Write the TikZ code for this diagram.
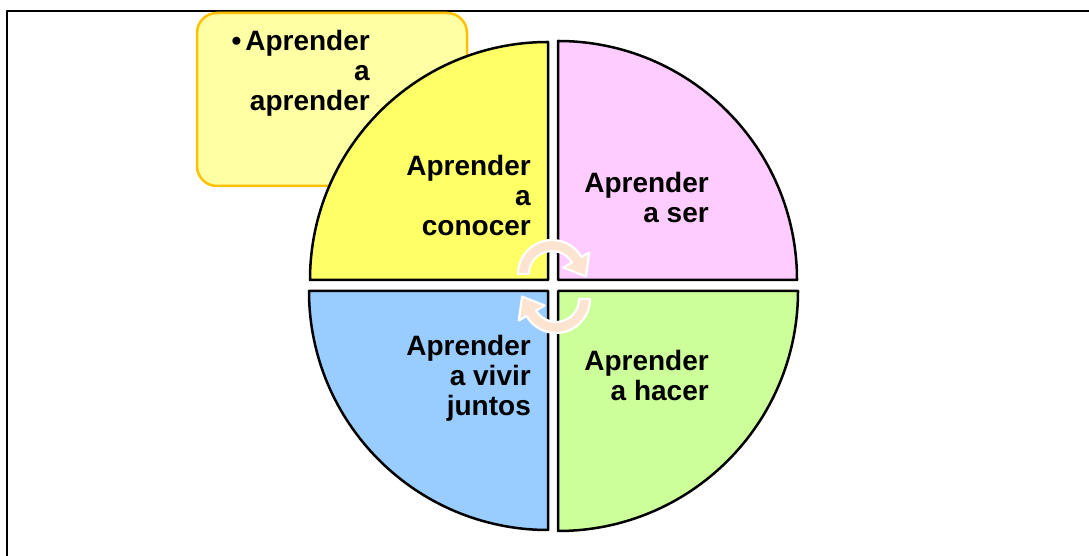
\documentclass[tikz,border=0pt]{standalone}
\usepackage{fontspec}
\setmainfont{Liberation Sans}
\usetikzlibrary{calc}
\definecolor{quadyellow}{HTML}{FFFF66}
\definecolor{quadpink}{HTML}{FFCCFF}
\definecolor{quadblue}{HTML}{99CCFF}
\definecolor{quadgreen}{HTML}{CCFF99}
\definecolor{boxfill}{HTML}{FFFFA3}
\definecolor{boxedge}{HTML}{FFC000}
\definecolor{arrowpeach}{HTML}{FCE4D0}
\begin{document}
\begin{tikzpicture}[x=1pt, y=1pt, line join=round,
  quad/.style={draw=black, line width=2.5pt},
  lbl/.style={font=\bfseries\fontsize{28}{30}\selectfont, align=right, inner sep=0pt, anchor=north east},
  turn/.style={fill=arrowpeach, draw=white, line width=2.2pt}]
  \useasboundingbox (0,0) rectangle (1089,556);
  % frame
  \draw[line width=2pt] (7,0) -- (7,544.5) -- (1089,544.5);
  % note box
  \draw[draw=boxedge, fill=boxfill, line width=2.5pt, rounded corners=20pt] (197,370) rectangle (467,543);
  \node[lbl] (aprender) at (370,526) {\textbullet\hspace{4pt}Aprender\\a\\aprender};
  % quadrants
  \filldraw[quad, fill=quadyellow] (548,276) -- (310,276) arc[start angle=180, end angle=90, radius=238] -- cycle;
  \filldraw[quad, fill=quadpink] (558,276) -- (558,515) arc[start angle=90, end angle=0, radius=239] -- cycle;
  \filldraw[quad, fill=quadblue] (548,265) -- (309,265) arc[start angle=180, end angle=270, radius=239] -- cycle;
  \filldraw[quad, fill=quadgreen] (558,265) -- (558,25) arc[start angle=270, end angle=360, radius=240] -- cycle;
  \node[lbl] (conocer) at (531,401) {Aprender\\a\\conocer};
  \node[lbl] (ser) at (709,384) {Aprender\\a ser};
  \node[lbl] (vivir) at (531,221) {Aprender\\a vivir\\juntos};
  \node[lbl] (hacer) at (709,206) {Aprender\\a hacer};
  % turning arrows
  \begin{scope}[shift={(552,282)}]
    \filldraw[turn] (180:34) arc[start angle=180, end angle=30, radius=34] -- (30:43) -- (-4:34) -- (30:13) -- (30:23) arc[start angle=30, end angle=180, radius=23] -- cycle;
  \end{scope}
  \begin{scope}[shift={(556,257)}, rotate=180]
    \filldraw[turn] (180:34) arc[start angle=180, end angle=30, radius=34] -- (30:43) -- (-4:34) -- (30:13) -- (30:23) arc[start angle=30, end angle=180, radius=23] -- cycle;
  \end{scope}
\end{tikzpicture}
\end{document}
